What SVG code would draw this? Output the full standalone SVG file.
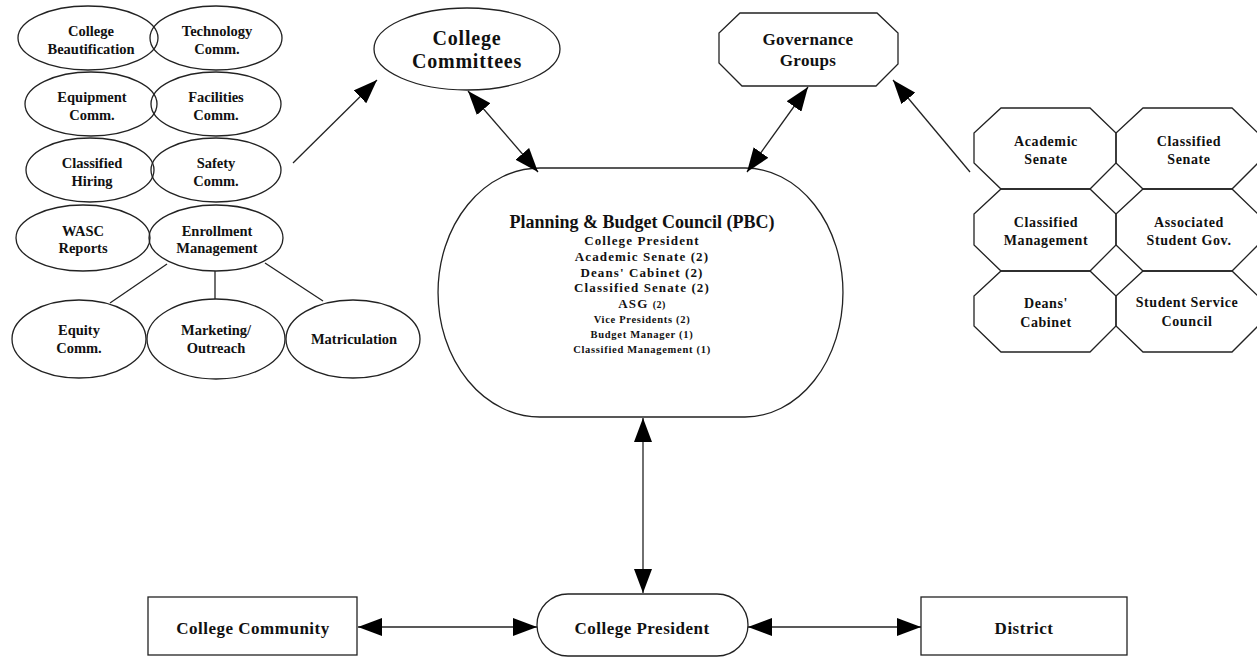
<svg xmlns="http://www.w3.org/2000/svg" width="1257" height="659" viewBox="0 0 1257 659">
<style>
text{font-family:"Liberation Serif","Times New Roman",serif;font-weight:bold;fill:#111;text-anchor:middle}
.s{font-size:14.5px}
.m{font-size:14px;letter-spacing:0.6px}
.big{font-size:20px;letter-spacing:0.8px}
.gov{font-size:17px;letter-spacing:0.3px}
.bot{font-size:17px;letter-spacing:0.5px}
.p1{font-size:13px;letter-spacing:1.1px}
.p2{font-size:10.5px;letter-spacing:0.7px}
.shape{fill:none;stroke:#222;stroke-width:1.3}
.conn line{stroke:#222;stroke-width:1.3}
</style>
<defs>
<marker id="ah" markerUnits="userSpaceOnUse" markerWidth="24" markerHeight="18" viewBox="0 0 24 18" refX="24" refY="9" orient="auto-start-reverse">
<path d="M0,0 L24,9 L0,18 Z" fill="#000"/>
</marker>
</defs>
<rect width="1257" height="659" fill="#fff"/>

<g id="college-beautification"><ellipse class="shape" cx="88" cy="38" rx="70" ry="32"/><text class="s" x="91" y="36">College</text><text class="s" x="91" y="54">Beautification</text></g>
<g id="technology-comm"><ellipse class="shape" cx="216" cy="38" rx="66" ry="32"/><text class="s" x="217" y="36">Technology</text><text class="s" x="217" y="54">Comm.</text></g>
<g id="equipment-comm"><ellipse class="shape" cx="91" cy="104" rx="66" ry="32"/><text class="s" x="92" y="102">Equipment</text><text class="s" x="92" y="120">Comm.</text></g>
<g id="facilities-comm"><ellipse class="shape" cx="216" cy="104" rx="65" ry="32"/><text class="s" x="216" y="102">Facilities</text><text class="s" x="216" y="120">Comm.</text></g>
<g id="classified-hiring"><ellipse class="shape" cx="90" cy="170" rx="64" ry="32"/><text class="s" x="92" y="168">Classified</text><text class="s" x="92" y="186">Hiring</text></g>
<g id="safety-comm"><ellipse class="shape" cx="216" cy="170" rx="65" ry="32"/><text class="s" x="216" y="168">Safety</text><text class="s" x="216" y="186">Comm.</text></g>
<g id="wasc-reports"><ellipse class="shape" cx="83" cy="238" rx="67" ry="33"/><text class="s" x="83" y="236">WASC</text><text class="s" x="83" y="253">Reports</text></g>
<g id="enrollment-management"><ellipse class="shape" cx="216" cy="238" rx="67" ry="33"/><text class="s" x="217" y="236">Enrollment</text><text class="s" x="217" y="253">Management</text></g>
<g id="equity-comm"><ellipse class="shape" cx="79" cy="339" rx="67" ry="39"/><text class="s" x="79" y="335">Equity</text><text class="s" x="79" y="353">Comm.</text></g>
<g id="marketing-outreach"><ellipse class="shape" cx="216" cy="339" rx="69" ry="40"/><text class="s" x="216" y="335">Marketing/</text><text class="s" x="216" y="353">Outreach</text></g>
<g id="matriculation"><ellipse class="shape" cx="353" cy="339" rx="67" ry="39"/><text class="s" x="354" y="344">Matriculation</text></g>

<g id="college-committees"><ellipse class="shape" cx="467" cy="49" rx="93" ry="41"/><text class="big" x="467" y="45">College</text><text class="big" x="467" y="68">Committees</text></g>

<g id="governance-groups"><polygon class="shape" points="740,13 877,13 898,33 898,64 876,86 742,86 719,63 719,33"/><text class="gov" x="808" y="45">Governance</text><text class="gov" x="808" y="66">Groups</text></g>

<g id="pbc"><path class="shape" d="M540,168 H745 A98,124.5 0 0 1 745,417 H540 A102,124.5 0 0 1 540,168 Z"/>
<text x="642" y="228" style="font-size:18px">Planning &amp; Budget Council (PBC)</text>
<text class="p1" x="642" y="245">College President</text>
<text class="p1" x="642" y="261">Academic Senate (2)</text>
<text class="p1" x="642" y="277">Deans' Cabinet (2)</text>
<text class="p1" x="642" y="292">Classified Senate (2)</text>
<text class="p1" x="642" y="308">ASG <tspan style="font-size:10px;letter-spacing:0.4px">(2)</tspan></text>
<text class="p2" x="642" y="323">Vice Presidents (2)</text>
<text class="p2" x="642" y="338">Budget Manager (1)</text>
<text class="p2" x="642" y="353">Classified Management (1)</text>
</g>

<g id="academic-senate"><polygon class="shape" points="1001,108 1090,108 1116,133 1116,163 1090,189 1001,189 974,163 974,133"/><text class="m" x="1046" y="146">Academic</text><text class="m" x="1046" y="164">Senate</text></g>
<g id="classified-senate"><polygon class="shape" points="1143,108 1232,108 1258,133 1258,163 1232,189 1143,189 1116,163 1116,133"/><text class="m" x="1189" y="146">Classified</text><text class="m" x="1189" y="164">Senate</text></g>
<g id="classified-management"><polygon class="shape" points="1001,189 1090,189 1116,214 1116,245 1090,271 1001,271 974,245 974,214"/><text class="m" x="1046" y="227">Classified</text><text class="m" x="1046" y="245">Management</text></g>
<g id="associated-student-gov"><polygon class="shape" points="1143,189 1232,189 1258,214 1258,245 1232,271 1143,271 1116,245 1116,214"/><text class="m" x="1189" y="227">Associated</text><text class="m" x="1189" y="245">Student Gov.</text></g>
<g id="deans-cabinet"><polygon class="shape" points="1001,271 1090,271 1116,296 1116,326 1090,352 1001,352 974,326 974,296"/><text class="m" x="1046" y="308">Deans'</text><text class="m" x="1046" y="327">Cabinet</text></g>
<g id="student-service-council"><polygon class="shape" points="1143,271 1232,271 1258,296 1258,326 1232,352 1143,352 1116,326 1116,296"/><text class="m" x="1187" y="307">Student Service</text><text class="m" x="1187" y="326">Council</text></g>

<g id="college-community"><rect class="shape" x="148" y="597" width="209" height="58"/><text class="bot" x="253" y="634">College Community</text></g>
<g id="college-president"><rect class="shape" x="537" y="594" width="211" height="62" rx="31" ry="31"/><text class="bot" x="642" y="634">College President</text></g>
<g id="district"><rect class="shape" x="921" y="597" width="206" height="58"/><text class="bot" x="1024" y="634">District</text></g>

<g id="connectors" class="conn">
<line x1="167" y1="264" x2="110" y2="303"/>
<line x1="215" y1="271" x2="215" y2="299"/>
<line x1="265" y1="263" x2="323" y2="301"/>
<line x1="293" y1="163" x2="377" y2="80" marker-end="url(#ah)"/>
<line x1="468" y1="91" x2="538" y2="172" marker-start="url(#ah)" marker-end="url(#ah)"/>
<line x1="808" y1="87" x2="747" y2="172" marker-start="url(#ah)" marker-end="url(#ah)"/>
<line x1="970" y1="172" x2="893" y2="80" marker-end="url(#ah)"/>
<line x1="643" y1="418" x2="643" y2="593" marker-start="url(#ah)" marker-end="url(#ah)"/>
<line x1="358" y1="627" x2="537" y2="627" marker-start="url(#ah)" marker-end="url(#ah)"/>
<line x1="748" y1="627" x2="921" y2="627" marker-start="url(#ah)" marker-end="url(#ah)"/>
</g>
</svg>
